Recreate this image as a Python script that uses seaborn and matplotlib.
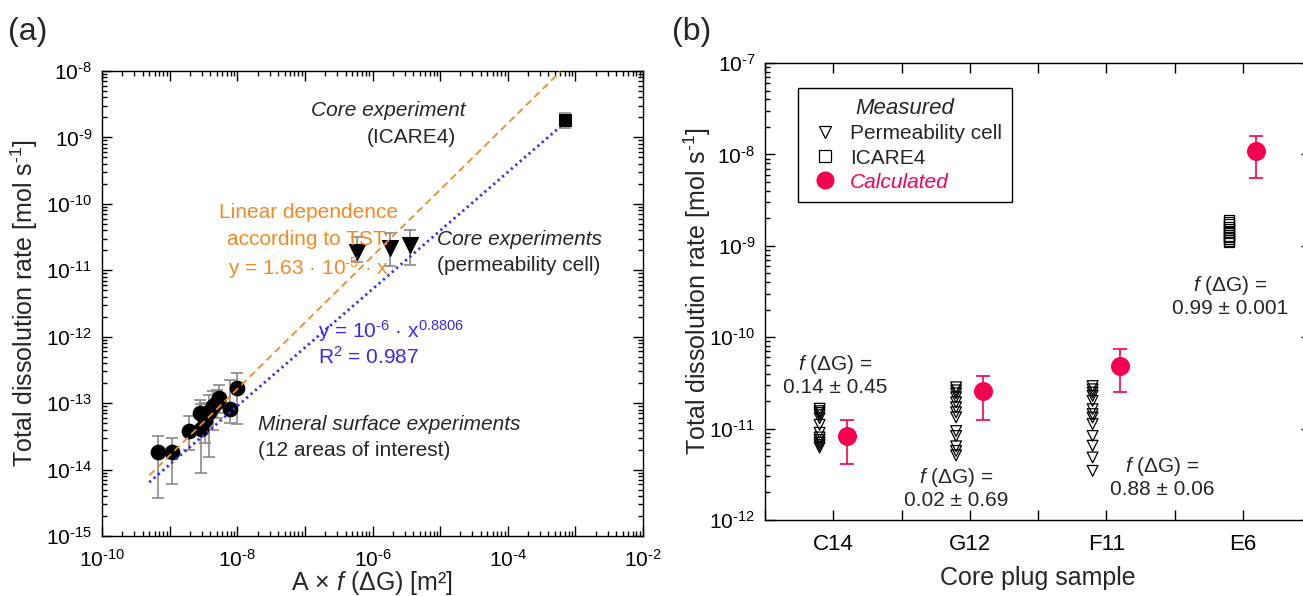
import numpy as np
import pandas as pd
import seaborn as sns
import matplotlib.pyplot as plt
from matplotlib.lines import Line2D
from matplotlib.ticker import LogLocator, FuncFormatter, NullFormatter, FixedLocator

# ---------------- panel (a) data ----------------
# mineral surface experiments (12 areas of interest): A*f(dG) [m2], rate [mol/s], error bar ends
min_x = [6.7e-10, 1.07e-9, 1.95e-9, 2.9e-9, 2.8e-9, 3.8e-9, 5.0e-9, 5.4e-9, 7.8e-9, 9.9e-9, 4.4e-9, 3.3e-9]
min_y = [1.83e-14, 1.83e-14, 3.8e-14, 4.1e-14, 7.1e-14, 7.4e-14, 1.05e-13, 1.19e-13, 8.1e-14, 1.68e-13, 9.0e-14, 5.5e-14]
min_lo = [3.7e-15, 6.0e-15, 2.0e-14, 8.9e-15, 3.5e-14, 1.55e-14, 6.0e-14, 7.0e-14, 5.0e-14, 4.9e-14, 4.0e-14, 2.5e-14]
min_hi = [3.2e-14, 3.0e-14, 6.5e-14, 9.7e-14, 1.1e-13, 1.32e-13, 1.6e-13, 1.87e-13, 2.2e-13, 2.8e-13, 1.5e-13, 1.0e-13]

# core experiments, permeability cell
perm_x = [5.9e-7, 1.8e-6, 3.6e-6]
perm_y = [1.9e-11, 2.15e-11, 2.4e-11]
perm_lo = [1.33e-11, 1.16e-11, 1.2e-11]
perm_hi = [3.16e-11, 3.63e-11, 4.0e-11]

# core experiment, ICARE4
icare_x = [7.0e-4]
icare_y = [1.8e-9]
icare_lo = [1.4e-9]
icare_hi = [2.3e-9]

# linear TST dependence and power-law fit
tst_coef = 1.63e-5
fit_coef = 1e-6
fit_exp = 0.8806
fit_r2 = 0.987
line_x = [5e-10, 6e-4]

# ---------------- panel (b) data ----------------
samples = ["C14", "G12", "F11", "E6"]
perm_C14 = [1.65e-11, 1.55e-11, 1.48e-11, 1.40e-11, 1.30e-11, 1.10e-11, 9.0e-12, 8.0e-12, 7.5e-12, 7.0e-12, 6.6e-12, 6.2e-12]
perm_G12 = [2.83e-11, 2.62e-11, 2.43e-11, 2.2e-11, 1.94e-11, 1.71e-11, 1.51e-11, 1.33e-11, 9.4e-12, 8.3e-12, 6.4e-12, 5.7e-12, 5.1e-12]
perm_F11 = [2.92e-11, 2.69e-11, 2.48e-11, 2.28e-11, 2.01e-11, 1.63e-11, 1.44e-11, 1.32e-11, 1.12e-11, 8.3e-12, 6.5e-12, 4.83e-12, 3.45e-12]
icare_E6 = [1.9e-9, 1.8e-9, 1.7e-9, 1.6e-9, 1.5e-9, 1.4e-9, 1.3e-9, 1.25e-9, 1.2e-9, 1.15e-9, 1.1e-9]
calc_rate = [8.3e-12, 2.56e-11, 4.9e-11, 1.08e-8]
calc_lo = [4.1e-12, 1.24e-11, 2.5e-11, 5.5e-9]
calc_hi = [1.24e-11, 3.8e-11, 7.4e-11, 1.6e-8]
fdg_mean = ["0.14", "0.02", "0.88", "0.99"]
fdg_sd = ["0.45", "0.69", "0.06", "0.001"]

# ---------------- style ----------------
W, H = 1303, 596
orange = "#F28A26"
blue = "#3A2BE0"
red = "#F5004F"
grey = "#8A8A8A"
HY = "\u2010"  # short hyphen used in the exponents

sns.set_theme(style="ticks")
plt.rcParams["font.family"] = ["Liberation Sans", "DejaVu Sans"]
plt.rcParams["mathtext.fontset"] = "custom"
plt.rcParams["mathtext.rm"] = "Liberation Sans"
plt.rcParams["mathtext.it"] = "Liberation Sans:italic"
plt.rcParams["mathtext.bf"] = "Liberation Sans:bold"
plt.rcParams["axes.linewidth"] = 1.0
plt.rcParams["axes.edgecolor"] = "black"

fig = plt.figure(figsize=(W / 100, H / 100), dpi=100)
ax_a = fig.add_axes([102 / W, 1 - 536 / H, 541 / W, 465 / H])
ax_b = fig.add_axes([765 / W, 1 - 520 / H, 546 / W, 457 / H])


def decade_label(v, pos):
    e = int(round(np.log10(v)))
    sign = HY if e < 0 else ""
    return r"$\mathregular{10^{%s%d}}$" % (sign, abs(e))


def even_decade_label(v, pos):
    e = int(round(np.log10(v)))
    return decade_label(v, pos) if e % 2 == 0 else ""


ylab = r"Total dissolution rate [mol s$^{%s1}$]" % HY

# ---------------- panel (a) ----------------
ax_a.set(xscale="log", yscale="log")

ax_a.errorbar(min_x, min_y,
              yerr=[np.subtract(min_y, min_lo), np.subtract(min_hi, min_y)],
              fmt="none", ecolor=grey, elinewidth=1.2, capsize=4, capthick=1.2, zorder=2)
ax_a.errorbar(perm_x, perm_y,
              yerr=[np.subtract(perm_y, perm_lo), np.subtract(perm_hi, perm_y)],
              fmt="none", ecolor=grey, elinewidth=1.2, capsize=4, capthick=1.2, zorder=2)
ax_a.errorbar(icare_x, icare_y,
              yerr=[np.subtract(icare_y, icare_lo), np.subtract(icare_hi, icare_y)],
              fmt="none", ecolor=grey, elinewidth=1.2, capsize=4, capthick=1.2, zorder=2)

sns.scatterplot(x=min_x, y=min_y, ax=ax_a, color="black", edgecolor="black", s=110, zorder=3)
sns.scatterplot(x=perm_x, y=perm_y, ax=ax_a, color="black", edgecolor="black", marker="v", s=130, zorder=3)
sns.scatterplot(x=icare_x, y=icare_y, ax=ax_a, color="black", edgecolor="black", marker="s", s=80, zorder=3)

tst_y = [tst_coef * v for v in line_x]
fit_y = [fit_coef * v ** fit_exp for v in line_x]
sns.lineplot(x=line_x, y=tst_y, ax=ax_a, color=orange, lw=1.3, linestyle=(0, (4, 2.5)), zorder=4)
sns.lineplot(x=line_x, y=fit_y, ax=ax_a, color=blue, lw=2.0, linestyle=(0, (0.8, 1.3)), zorder=4)

ax_a.set_xlim(1e-10, 1e-2)
ax_a.set_ylim(1e-15, 1e-8)
ax_a.xaxis.set_major_locator(LogLocator(base=10, numticks=20))
ax_a.xaxis.set_major_formatter(FuncFormatter(even_decade_label))
ax_a.xaxis.set_minor_locator(LogLocator(base=10, subs=np.arange(2, 10), numticks=100))
ax_a.xaxis.set_minor_formatter(NullFormatter())
ax_a.yaxis.set_major_locator(LogLocator(base=10, numticks=20))
ax_a.yaxis.set_major_formatter(FuncFormatter(decade_label))
ax_a.yaxis.set_minor_locator(LogLocator(base=10, subs=np.arange(2, 10), numticks=100))
ax_a.yaxis.set_minor_formatter(NullFormatter())
ax_a.set_xlabel("A × $f$ (ΔG) [m²]", fontsize=18)
ax_a.set_ylabel(ylab, fontsize=18)
ax_a.xaxis.set_label_coords(0.5, -0.072)
ax_a.yaxis.set_label_coords(-0.115, 0.5)

ta = ax_a.transAxes
fs_a = 15
ax_a.text(0.529, 0.916, "Core experiment", transform=ta, fontsize=fs_a, style="italic", ha="center", va="center")
ax_a.text(0.571, 0.856, "(ICARE4)", transform=ta, fontsize=fs_a, ha="center", va="center")
ax_a.text(0.381, 0.695, "Linear dependence", transform=ta, fontsize=15, color=orange, ha="center", va="center")
ax_a.text(0.381, 0.637, "according to TST:", transform=ta, fontsize=15, color=orange, ha="center", va="center")
ax_a.text(0.381, 0.577, r"y = 1.63 · 10$^{%s5}$ · x" % HY, transform=ta, fontsize=15, color=orange,
          ha="center", va="center")
ax_a.text(0.619, 0.637, "Core experiments", transform=ta, fontsize=fs_a, style="italic", ha="left", va="center")
ax_a.text(0.619, 0.581, "(permeability cell)", transform=ta, fontsize=fs_a, ha="left", va="center")
ax_a.text(0.399, 0.441, r"y = 10$^{%s6}$ · x$^{0.8806}$" % HY, transform=ta, fontsize=15, color=blue,
          ha="left", va="center")
ax_a.text(0.399, 0.385, "R$^{2}$ = %.3f" % fit_r2, transform=ta, fontsize=15, color=blue, ha="left", va="center")
ax_a.text(0.288, 0.239, "Mineral surface experiments", transform=ta, fontsize=fs_a, style="italic",
          ha="left", va="center")
ax_a.text(0.288, 0.183, "(12 areas of interest)", transform=ta, fontsize=fs_a, ha="left", va="center")

# ---------------- panel (b) ----------------
ax_b.set(yscale="log")
sample_pos = {s: 2 * i + 1 for i, s in enumerate(samples)}

meas = [("C14", "Permeability cell", v) for v in perm_C14]
meas += [("G12", "Permeability cell", v) for v in perm_G12]
meas += [("F11", "Permeability cell", v) for v in perm_F11]
meas += [("E6", "ICARE4", v) for v in icare_E6]
df_meas = pd.DataFrame(meas, columns=["sample", "method", "rate"])
df_meas["pos"] = df_meas["sample"].map(sample_pos) - 0.2

df_calc = pd.DataFrame({"sample": samples, "rate": calc_rate, "lo": calc_lo, "hi": calc_hi})
df_calc["pos"] = df_calc["sample"].map(sample_pos) + 0.2

sns.scatterplot(data=df_meas, x="pos", y="rate", style="method",
                markers={"Permeability cell": "v", "ICARE4": "s"},
                s=60, linewidth=0.9, legend=False, ax=ax_b, zorder=3)
meas_pts = ax_b.collections[-1]
meas_pts.set_facecolor("none")
meas_pts.set_edgecolor("black")

ax_b.errorbar(df_calc["pos"], df_calc["rate"],
              yerr=[df_calc["rate"] - df_calc["lo"], df_calc["hi"] - df_calc["rate"]],
              fmt="none", ecolor=red, elinewidth=1.2, capsize=5, capthick=1.2, zorder=2)
sns.scatterplot(data=df_calc, x="pos", y="rate", color=red, edgecolor=red, s=160, ax=ax_b, zorder=3)

ax_b.set_xlim(0, 8)
ax_b.set_ylim(1e-12, 1e-7)
ax_b.set_xticks([sample_pos[s] for s in samples], samples)
ax_b.xaxis.set_minor_locator(FixedLocator([0, 2, 4, 6, 8]))
ax_b.yaxis.set_major_locator(LogLocator(base=10, numticks=20))
ax_b.yaxis.set_major_formatter(FuncFormatter(decade_label))
ax_b.yaxis.set_minor_locator(LogLocator(base=10, subs=np.arange(2, 10), numticks=100))
ax_b.yaxis.set_minor_formatter(NullFormatter())
ax_b.set_xlabel("Core plug sample", fontsize=18)
ax_b.set_ylabel(ylab, fontsize=18)
ax_b.xaxis.set_label_coords(0.5, -0.1)
ax_b.yaxis.set_label_coords(-0.095, 0.5)

tb = ax_b.transAxes
fdg_xy = [(0.128, 0.317), (0.351, 0.07), (0.727, 0.094), (0.852, 0.49)]
for (tx, ty), m, sd in zip(fdg_xy, fdg_mean, fdg_sd):
    ax_b.text(tx, ty, "$f$ (ΔG) =\n%s ± %s" % (m, sd), transform=tb, fontsize=15,
              ha="center", va="center", linespacing=1.1, multialignment="center")

handles = [Line2D([], [], ls="none", marker="v", mfc="none", mec="black", ms=8, mew=0.9),
           Line2D([], [], ls="none", marker="s", mfc="none", mec="black", ms=8, mew=0.9),
           Line2D([], [], ls="none", marker="o", mfc=red, mec=red, ms=12)]
leg = ax_b.legend(handles, ["Permeability cell", "ICARE4", "Calculated"], title="Measured",
                  loc="upper left", bbox_to_anchor=(0.06, 0.946), borderaxespad=0,
                  frameon=True, fancybox=False, edgecolor="black", framealpha=1,
                  fontsize=15, title_fontproperties={"style": "italic", "size": 16},
                  handletextpad=0.4, handlelength=1.6, borderpad=0.5, labelspacing=0.25)
leg.get_frame().set_linewidth(1.0)
leg.get_texts()[2].set_color(red)
leg.get_texts()[2].set_style("italic")

# ---------------- ticks ----------------
for ax in (ax_a, ax_b):
    ax.tick_params(which="both", direction="in", top=True, right=True, labelsize=15,
                   width=1.0, color="black", labelcolor="black")
    ax.tick_params(which="major", length=7, pad=7)
    ax.tick_params(which="minor", length=3.5)
    for sp in ax.spines.values():
        sp.set_color("black")
        sp.set_linewidth(1.0)
ax_a.tick_params(axis="x", which="major", pad=9)
ax_b.tick_params(axis="y", which="minor", right=False)
ax_b.tick_params(axis="x", which="both", length=7, labelsize=16, pad=10)

fig.text(8 / W, 1 - 32 / H, "(a)", fontsize=23, va="center", ha="left")
fig.text(672 / W, 1 - 32 / H, "(b)", fontsize=23, va="center", ha="left")

fig.savefig("out.png", dpi=100)
